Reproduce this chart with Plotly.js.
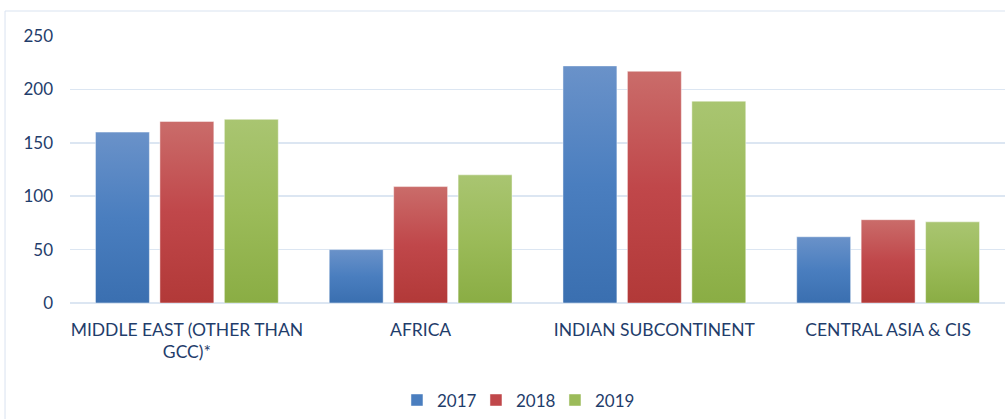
<!DOCTYPE html>
<html>
<head>
<meta charset="utf-8">
<script src="https://cdn.plot.ly/plotly-3.0.1.min.js"></script>
<style>html,body{margin:0;padding:0;background:#fff;}#chart{width:1005px;height:419px;}</style>
</head>
<body>
<div id="chart"></div>
<script>
const categories = ["MIDDLE EAST (OTHER THAN<br>GCC)*", "AFRICA", "INDIAN SUBCONTINENT", "CENTRAL ASIA & CIS"];
const seriesNames = ["2017", "2018", "2019"];
const values2017 = [160, 50, 222, 62];
const values2018 = [170, 109, 217, 78];
const values2019 = [172, 120, 189, 76];
const yTicks = [0, 50, 100, 150, 200, 250];

const colors = ["#4a7ebf", "#c0474a", "#9bbb59"];
const gradTop = ["#6a92c9", "#ca6c6a", "#a9c571"];
const gradBot = ["#3a6fb0", "#b23938", "#8aad44"];
const allValues = [values2017, values2018, values2019];
const textColor = "#1f3d6b";
const font = "Lato, 'Open Sans', sans-serif";

const traces = seriesNames.map((name, i) => ({
  type: "bar",
  name: name,
  x: categories,
  y: allValues[i],
  marker: { color: colors[i], line: { color: "rgba(255,255,255,0.45)", width: 1 } },
  hoverinfo: "x+y+name"
}));

const layout = {
  width: 1005,
  height: 419,
  margin: { l: 70, r: 0, t: 36, b: 116 },
  paper_bgcolor: "#ffffff",
  plot_bgcolor: "#ffffff",
  barmode: "group",
  bargap: 0.173,
  bargroupgap: 0.163,
  font: { family: font, size: 17, color: textColor },
  xaxis: {
    showgrid: false,
    showline: false,
    zeroline: false,
    ticks: "",
    tickfont: { family: font, size: 17.5, color: textColor },
    ticklabelstandoff: 14,
    fixedrange: true
  },
  yaxis: {
    range: [0, 250],
    tickvals: yTicks,
    showgrid: true,
    gridcolor: "#dce6f2",
    gridwidth: 1.5,
    zeroline: true,
    zerolinecolor: "#dce6f2",
    zerolinewidth: 1.5,
    showline: false,
    ticks: "",
    ticklabelstandoff: 16,
    tickfont: { family: font, size: 17, color: textColor },
    fixedrange: true
  },
  showlegend: true,
  legend: {
    orientation: "h",
    x: 0.3497,
    xanchor: "left",
    y: -0.365,
    yanchor: "middle",
    font: { family: font, size: 17, color: textColor },
    itemwidth: 30,
    entrywidth: 34,
    entrywidthmode: "pixels",
    tracegroupgap: 0
  },
  shapes: [{
    type: "rect",
    xref: "paper", yref: "paper",
    x0: -0.0695, x1: 1.02,
    y0: -0.47, y1: 1.0936,
    line: { color: "#d9e3f0", width: 1 },
    fillcolor: "rgba(0,0,0,0)",
    layer: "below"
  }]
};

Plotly.newPlot("chart", traces, layout, { displayModeBar: false, staticPlot: true }).then(gd => {
  const svgNS = "http://www.w3.org/2000/svg";
  const svg = gd.querySelector("svg.main-svg");
  let defs = svg.querySelector("defs");
  if (!defs) { defs = document.createElementNS(svgNS, "defs"); svg.insertBefore(defs, svg.firstChild); }
  seriesNames.forEach((n, i) => {
    const lg = document.createElementNS(svgNS, "linearGradient");
    lg.setAttribute("id", "bargrad" + i);
    lg.setAttribute("x1", "0"); lg.setAttribute("y1", "0");
    lg.setAttribute("x2", "0"); lg.setAttribute("y2", "1");
    const s1 = document.createElementNS(svgNS, "stop");
    s1.setAttribute("offset", "0"); s1.setAttribute("stop-color", gradTop[i]);
    const s2 = document.createElementNS(svgNS, "stop");
    s2.setAttribute("offset", "0.5"); s2.setAttribute("stop-color", colors[i]);
    const s3 = document.createElementNS(svgNS, "stop");
    s3.setAttribute("offset", "1"); s3.setAttribute("stop-color", gradBot[i]);
    lg.appendChild(s1); lg.appendChild(s2); lg.appendChild(s3);
    defs.appendChild(lg);
  });
  const traceGroups = gd.querySelectorAll(".barlayer .trace");
  traceGroups.forEach((g, i) => {
    g.querySelectorAll(".point path").forEach(p => { p.style.fill = "url(#bargrad" + i + ")"; });
  });
});
</script>
</body>
</html>
